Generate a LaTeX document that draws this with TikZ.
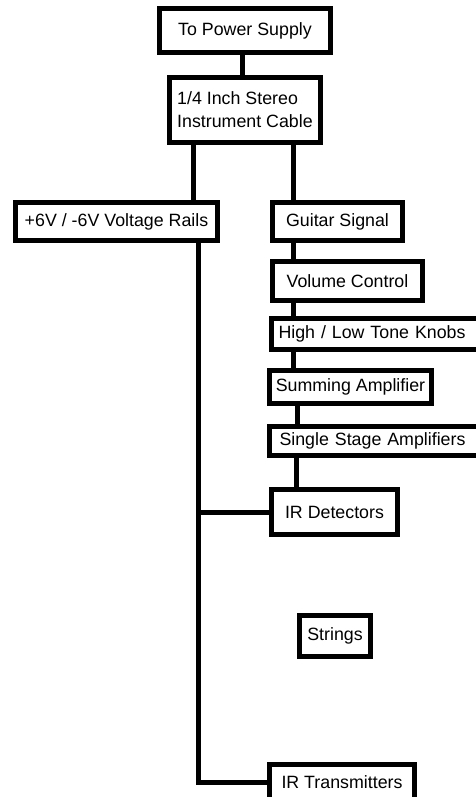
\documentclass[tikz,border=0pt]{standalone}
\usepackage{fontspec}
\setmainfont{Liberation Sans}
\usetikzlibrary{positioning}

\begin{document}
\begin{tikzpicture}[x=1pt,y=-1pt,
      box/.style={draw,line width=5pt,inner sep=0pt,font=\fontsize{17.8}{23}\selectfont},
      cutbox/.style={box,anchor=west,align=left,text width=200pt},
      wire/.style={line width=5pt}]
    \useasboundingbox (0,0) rectangle (476,797);
    \clip (0,0) rectangle (476,797);

    \node[box,minimum width=171pt,minimum height=44pt] (power) at (245,30.5) {To Power Supply};
    \node[box,minimum width=151pt,minimum height=65pt,align=left] (cable) at (245,110)
      {1/4 Inch Stereo\\Instrument Cable};
    \node[box,minimum width=202pt,minimum height=38pt] (rails) at (116.5,221.5) {+6V / -6V Voltage Rails};
    \node[box,minimum width=130pt,minimum height=38pt] (guitar) at (337.5,221.5) {Guitar Signal};
    \node[box,minimum width=150pt,minimum height=39pt] (volume) at (347.5,281) {Volume Control};
    \node[cutbox,inner xsep=7pt,minimum height=31pt] (tone) at (269,334) {High / Low Tone Knobs};
    \node[box,minimum width=162pt,minimum height=33pt] (summing) at (350.5,387) {Summing Amplifier};
    \node[cutbox,inner xsep=10pt,minimum height=29pt] (single) at (267,441) {Single Stage Amplifiers};
    \node[box,minimum width=126pt,minimum height=45pt] (det) at (334.5,512) {IR Detectors};
    \node[box,minimum width=71pt,minimum height=41pt] (strings) at (335,636) {Strings};
    \node[box,minimum width=145pt,minimum height=35pt] (trans) at (342,782) {IR Transmitters};

    % signal chain
    \draw[wire] (power.south -| 242,0) -- (cable.north -| 242,0);
    \draw[wire] (cable.south -| 293,0) -- (guitar.north -| 293,0);
    \draw[wire] (guitar.south -| 293,0) -- (volume.north -| 293,0);
    \draw[wire] (volume.south -| 293,0) -- (tone.north -| 293,0);
    \draw[wire] (tone.south -| 293,0) -- (summing.north -| 293,0);
    \draw[wire] (summing.south -| 297,0) -- (single.north -| 297,0);
    \draw[wire] (single.south -| 296,0) -- (det.north -| 296,0);

    % supply rail
    \draw[wire] (cable.south -| 193,0) -- (rails.north -| 193,0);
    \draw[wire] (rails.south -| 198,0) |- (trans.west);
    \draw[wire] (det.west) -- (det.west -| 198,0);
  \end{tikzpicture}
\end{document}
